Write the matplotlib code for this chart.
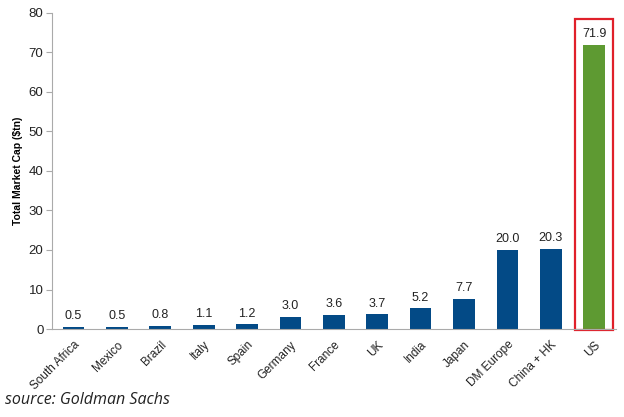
import matplotlib.pyplot as plt
from matplotlib.patches import Rectangle

countries = ["South Africa", "Mexico", "Brazil", "Italy", "Spain", "Germany", "France",
             "UK", "India", "Japan", "DM Europe", "China + HK", "US"]
market_cap = [0.5, 0.5, 0.8, 1.1, 1.2, 3.0, 3.6, 3.7, 5.2, 7.7, 20.0, 20.3, 71.9]

blue = "#034a86"
green = "#5e9a32"
colors = [blue] * (len(countries) - 1) + [green]

fig = plt.figure(figsize=(6.24, 4.17), dpi=100)
ax = fig.add_axes([0.083, 0.211, 0.904, 0.758])

x = range(len(countries))
bars = ax.bar(x, market_cap, width=0.5, color=colors)
for i, v in enumerate(market_cap):
    ax.text(i, v + 1.2, "%.1f" % v, ha="center", va="bottom", fontsize=9,
            color="#222222", family="Liberation Sans")

ax.set_xlim(-0.5, len(countries) - 0.5)
ax.set_ylim(0, 80)
ax.set_yticks(range(0, 81, 10))
ax.set_xticks(list(x))
ax.set_xticklabels(countries, rotation=45, ha="right", rotation_mode="anchor",
                   fontsize=8.5, family="Liberation Sans", color="#222222")
for lab in ax.get_yticklabels():
    lab.set_family("Liberation Sans")
    lab.set_fontsize(9.5)
    lab.set_color("#222222")
ax.tick_params(axis="x", length=0, pad=7)
ax.tick_params(axis="y", length=4, color="#aaaaaa", pad=2)

ax.set_ylabel("Total Market Cap ($tn)", fontsize=7.5, fontweight="bold",
              family="Liberation Sans", labelpad=4)

for s in ["top", "right"]:
    ax.spines[s].set_visible(False)
ax.spines["left"].set_color("#aaaaaa")
ax.spines["bottom"].set_color("#aaaaaa")

# red highlight box around US
rect = Rectangle((11.55, -0.3), 0.88, 78.8, fill=False, edgecolor="#e0202a",
                 linewidth=1.6, clip_on=False)
ax.add_patch(rect)

fig.text(0.008, 0.03, "source: Goldman Sachs", fontsize=11.5, style="italic",
         family="Open Sans", color="#222222")

fig.savefig("out.png", dpi=100)
